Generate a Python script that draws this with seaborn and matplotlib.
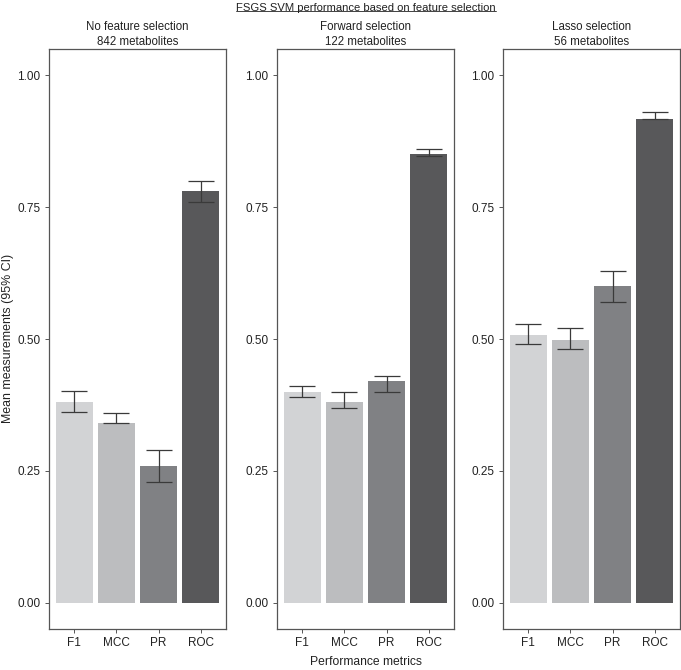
import matplotlib
matplotlib.use("Agg")
import matplotlib.pyplot as plt
import seaborn as sns
import pandas as pd
import numpy as np

sns.set_theme(style="white")
plt.rcParams['font.family'] = ['Liberation Sans', 'DejaVu Sans']

metrics = ["F1", "MCC", "PR", "ROC"]
panels = ["No feature selection\n842 metabolites",
          "Forward selection\n122 metabolites",
          "Lasso selection\n56 metabolites"]
mean_none = [0.38, 0.34, 0.26, 0.78]
low_none = [0.361, 0.340, 0.229, 0.760]
high_none = [0.401, 0.359, 0.290, 0.800]
mean_fwd = [0.40, 0.38, 0.42, 0.85]
low_fwd = [0.390, 0.370, 0.400, 0.848]
high_fwd = [0.410, 0.400, 0.430, 0.861]
mean_lasso = [0.507, 0.499, 0.600, 0.918]
low_lasso = [0.490, 0.481, 0.570, 0.918]
high_lasso = [0.529, 0.521, 0.629, 0.931]
colors = ["#d2d3d5", "#bcbdbf", "#808184", "#58585a"]
yticks = [0.00, 0.25, 0.50, 0.75, 1.00]

means = [mean_none, mean_fwd, mean_lasso]
lows = [low_none, low_fwd, low_lasso]
highs = [high_none, high_fwd, high_lasso]

fig = plt.figure(figsize=(6.81, 6.70), dpi=100)
lefts = [49 / 681, 277 / 681, 503 / 681]
width = 177 / 681
bottom = 1 - 629 / 670
height = (629 - 49) / 670

for i, (title, m, lo, hi) in enumerate(zip(panels, means, lows, highs)):
    ax = fig.add_axes([lefts[i], bottom, width, height])
    df = pd.DataFrame({"metric": metrics, "value": m})
    sns.barplot(data=df, x="metric", y="value", hue="metric", palette=colors,
                order=metrics, hue_order=metrics, width=0.88, legend=False,
                ax=ax, saturation=1, edgecolor="none")
    x = np.arange(len(metrics))
    yerr = np.array([np.array(m) - np.array(lo), np.array(hi) - np.array(m)])
    ax.errorbar(x, m, yerr=yerr, fmt="none", ecolor="#3a3a3a",
                elinewidth=0.9, capsize=9.5, capthick=0.9)
    ax.set_xlim(-0.6, 3.6)
    ax.set_ylim(-0.05, 1.05)
    ax.set_yticks(yticks)
    ax.set_yticklabels([f"{t:.2f}" for t in yticks])
    ax.set_xlabel("")
    ax.set_ylabel("")
    ax.set_title(title, fontsize=8.3, color="#222222", pad=3, linespacing=1.3)
    for s in ax.spines.values():
        s.set_color("#555555")
        s.set_linewidth(0.9)
    ax.tick_params(axis="both", which="both", length=3, width=0.7,
                   color="#555555", labelsize=8.5, labelcolor="#222222",
                   direction="out", bottom=True, left=True, pad=3)

t = fig.text(366 / 681, 0.996, "FSGS SVM performance based on feature selection",
             ha="center", va="top", fontsize=8.1, color="#222222")
# underline
fig.canvas.draw()
bb = t.get_window_extent()
inv = fig.transFigure.inverted()
(x0, y0), (x1, y1) = inv.transform([[bb.x0, bb.y0], [bb.x1, bb.y1]])
fig.add_artist(plt.Line2D([x0, x1], [y0 + 0.002, y0 + 0.002], color="#222222",
                          linewidth=0.6, transform=fig.transFigure))

fig.text(0.012, 1 - 338 / 670, "Mean measurements (95% CI)", rotation=90,
         ha="center", va="center", fontsize=8.9, color="#222222")
fig.text(366 / 681, 1 - 662 / 670, "Performance metrics", ha="center",
         va="center", fontsize=8.7, color="#222222")

fig.savefig("out.png", dpi=100)
